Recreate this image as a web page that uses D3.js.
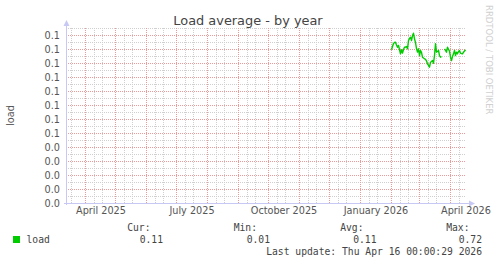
<!DOCTYPE html>
<html><head><meta charset="utf-8">
<script src="https://cdn.jsdelivr.net/npm/d3@7"></script>
<style>
html,body{margin:0;padding:0;background:#fff;}
svg{display:block;}
</style></head>
<body>
<script>
// ---- data ----
const titleText = "Load average - by year";
const yAxisLabel = "load";
const yTickValues = [0, 0.01, 0.02, 0.03, 0.04, 0.05, 0.06, 0.07, 0.08, 0.09, 0.10, 0.11, 0.12];
const yTickLabels = ["0.0","0.0","0.0","0.0","0.0","0.1","0.1","0.1","0.1","0.1","0.1","0.1","0.1"];
const xTickDates = ["2025-04-16","2025-07-16","2025-10-16","2026-01-16","2026-04-16"];
const xTickLabels = ["April 2025","July 2025","October 2025","January 2026","April 2026"];
const timeDomain = ["2025-03-12","2026-04-16"];
const loadStart = "2026-02-01";
const loadValues = [
  0.1098,0.1121,0.1143,0.1150,0.1152,0.1132,0.1116,0.1129,0.1100,0.1069,
  0.1098,0.1074,0.1100,0.1116,0.1118,0.1121,0.1105,0.1164,0.1179,0.1188,
  0.1164,0.1200,0.1216,0.1176,0.1150,0.1107,0.1081,0.1105,0.1057,0.1093,
  0.1079,0.1045,0.1039,0.1034,0.1029,0.1018,0.0998,0.0986,0.0974,0.1009,
  0.1014,0.1021,0.1002,0.1057,0.1141,0.1081,0.1086,0.1093,0.1057,0.1045,
  0.1050,null,null,0.1105,0.1093,0.1081,0.1116,0.1102,0.1088,0.1045,
  0.1021,0.1050,0.1069,0.1093,0.1057,0.1081,0.1069,0.1086,0.1093,0.1074,
  0.1071,0.1069,0.1081,0.1089,0.1098
];
const legendName = "load";
const legendHeads = ["Cur:","Min:","Avg:","Max:"];
const legendVals = ["0.11","0.01","0.11","0.72"];
const lastUpdate = "Last update: Thu Apr 16 00:00:29 2026";
const lineColor = "#00cc00";

// ---- drawing ----
const W = 497, H = 264;
const parse = d3.utcParse("%Y-%m-%d");
const svg = d3.select("body").append("svg").attr("width", W).attr("height", H);

const x = d3.scaleUtc().domain(timeDomain.map(parse)).range([65.5, 465.5]);
const y = d3.scaleLinear().domain([0, 0.125]).range([203.5, 28.5]);
const gx0 = 66, gx1 = 466, gy0 = 28, gy1 = 204;
const px = v => Math.floor(v) + 0.5;

const minorCol = "#cfcfcf", majorCol = "#eb9a9a";
const grid = svg.append("g");
const minorY = d3.range(0, 0.1251, 0.005);
grid.selectAll(".mhy").data(minorY).join("line")
  .attr("x1", gx0).attr("x2", gx1).attr("y1", d => px(y(d))).attr("y2", d => px(y(d)))
  .attr("stroke", minorCol).attr("stroke-dasharray", "1,1");
const months = d3.utcMonths(d3.utcMonth.offset(x.domain()[0], -1), x.domain()[1]);
const minorX = [];
months.forEach(m => { [9, 17].forEach(o => { const t = d3.utcDay.offset(m, o); if (t > x.domain()[0] && t < x.domain()[1]) minorX.push(t); }); });
grid.selectAll(".mvx").data(minorX).join("line")
  .attr("x1", d => px(x(d))).attr("x2", d => px(x(d)))
  .attr("y1", gy0).attr("y2", gy1)
  .attr("stroke", minorCol).attr("stroke-dasharray", "1,1");
grid.selectAll(".My").data(yTickValues).join("line")
  .attr("x1", gx0).attr("x2", gx1).attr("y1", d => px(y(d))).attr("y2", d => px(y(d)))
  .attr("stroke", majorCol).attr("stroke-dasharray", "1,1");
const majorX = d3.utcMonths(x.domain()[0], x.domain()[1]);
grid.selectAll(".Mx").data(majorX).join("line")
  .attr("x1", d => px(x(d))).attr("x2", d => px(x(d))).attr("y1", gy0).attr("y2", gy1)
  .attr("stroke", majorCol).attr("stroke-dasharray", "1,1");

// axes lines + arrows
const axisCol = "#c8c8f4";
svg.append("line").attr("x1", 66.5).attr("x2", 66.5).attr("y1", 205).attr("y2", 24).attr("stroke", axisCol);
svg.append("path").attr("d", "M63.5,26 L69.5,26 L66.5,20 Z").attr("fill", axisCol);
svg.append("line").attr("x1", 64).attr("x2", 470).attr("y1", 203.5).attr("y2", 203.5).attr("stroke", axisCol);
svg.append("path").attr("d", "M469,200.5 L469,206.5 L475,203.5 Z").attr("fill", axisCol);

// y tick labels
const yAx = d3.axisLeft(y).tickValues(yTickValues).tickSize(0).tickPadding(0)
  .tickFormat((d, i) => yTickLabels[i]);
const gy = svg.append("g").attr("transform", "translate(60,0)").call(yAx);
gy.select(".domain").remove();
gy.selectAll("text").attr("font-family", "DejaVu Sans").attr("font-size", "9.7px").attr("fill", "#555");

// x tick labels
const xAx = d3.axisBottom(x).tickValues(xTickDates.map(parse)).tickSize(0).tickPadding(0)
  .tickFormat((d, i) => xTickLabels[i]);
const gx = svg.append("g").attr("transform", "translate(0,207)").call(xAx);
gx.select(".domain").remove();
gx.selectAll("text").attr("font-family", "DejaVu Sans").attr("font-size", "9.7px").attr("fill", "#555").attr("dy", "0.71em");

// data line
const data = loadValues.map((v, i) => ({ t: d3.utcDay.offset(parse(loadStart), i), v }));
const line = d3.line().defined(d => d.v != null).x(d => x(d.t)).y(d => y(d.v));
svg.append("path").datum(data).attr("d", line).attr("fill", "none")
  .attr("stroke", lineColor).attr("stroke-width", 1.4).attr("stroke-linejoin", "round");

// title
svg.append("text").attr("x", 248).attr("y", 24.5).attr("text-anchor", "middle")
  .attr("font-family", "DejaVu Sans").attr("font-size", "12.9px").attr("fill", "#444").text(titleText);
// y label
svg.append("text").attr("transform", "translate(14,115.5) rotate(-90)").attr("text-anchor", "middle")
  .attr("font-family", "DejaVu Sans").attr("font-size", "9.7px").attr("fill", "#555").text(yAxisLabel);
// watermark
svg.append("text").attr("transform", "translate(486,5) rotate(90)").attr("text-anchor", "start")
  .attr("font-family", "DejaVu Sans").attr("font-size", "8.5px").attr("fill", "#d0d0d0").text("RRDTOOL / TOBI OETIKER");

// legend
const mono = "DejaVu Sans Mono";
const legCol = "#444";
svg.append("rect").attr("x", 13).attr("y", 236).attr("width", 7).attr("height", 7).attr("fill", lineColor);
svg.append("text").attr("x", 26.5).attr("y", 243).attr("font-family", mono).attr("font-size", "9.7px").attr("fill", legCol).text(legendName);
const headX = [150.5, 257, 363.5, 469.5];
const valX = [163, 270, 376.5, 482];
legendHeads.forEach((h, i) => {
  svg.append("text").attr("x", headX[i]).attr("y", 231).attr("text-anchor", "end")
    .attr("font-family", mono).attr("font-size", "9.7px").attr("fill", legCol).text(h);
  svg.append("text").attr("x", valX[i]).attr("y", 243).attr("text-anchor", "end")
    .attr("font-family", mono).attr("font-size", "9.7px").attr("fill", legCol).text(legendVals[i]);
});
svg.append("text").attr("x", 482).attr("y", 255).attr("text-anchor", "end")
  .attr("font-family", mono).attr("font-size", "9.7px").attr("fill", legCol).text(lastUpdate);
</script>
</body></html>
